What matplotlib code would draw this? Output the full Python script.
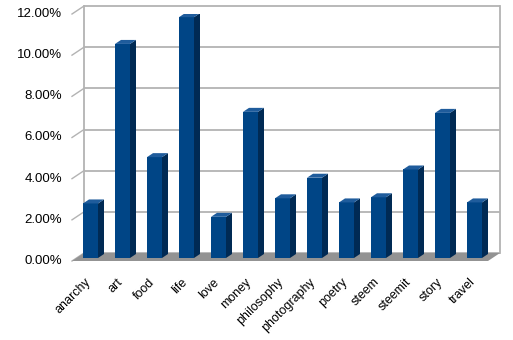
import matplotlib
matplotlib.use('Agg')
import matplotlib.pyplot as plt
from matplotlib.patches import Polygon

categories = ['anarchy', 'art', 'food', 'life', 'love', 'money', 'philosophy',
              'photography', 'poetry', 'steem', 'steemit', 'story', 'travel']
values = [2.65, 10.4, 4.9, 11.7, 2.0, 7.1, 2.9, 3.9, 2.7, 2.95, 4.3, 7.05, 2.7]
yticks = [0, 2, 4, 6, 8, 10, 12]
ytick_labels = ['0.00%', '2.00%', '4.00%', '6.00%', '8.00%', '10.00%', '12.00%']

plt.rcParams['font.family'] = ['Liberation Sans', 'DejaVu Sans']

W, H = 513, 340
fig = plt.figure(figsize=(W / 100, H / 100), dpi=100)
L, R, T, B = 72, 488, 14, 261
ax = fig.add_axes([L / W, 1 - B / H, (R - L) / W, (B - T) / H])
n = len(categories)
ax.set_xlim(-0.5, n - 0.5)
ax.set_ylim(0, 12)
ax.axis('off')

px_x = n / (R - L)
px_y = 12 / (B - T)


def off(x, y, dx, dy):
    return (x + dx * px_x, y + dy * px_y)


DX, DY = 12, 8
grid_c = '#b3b3b3'
x0, x1 = -0.5, n - 0.5

# floor
ax.add_patch(Polygon([(x0, 0), (x1, 0), off(x1, 0, DX, DY), off(x0, 0, DX, DY)],
                     closed=True, facecolor='#939393', edgecolor='none', zorder=1,
                     clip_on=False))

# back wall grid lines
for t in yticks:
    a = off(x0, t, DX, DY)
    b = off(x1, t, DX, DY)
    ax.plot([a[0], b[0]], [a[1], b[1]], color=grid_c, lw=1.3, zorder=0.5,
            clip_on=False, solid_capstyle='butt')
    # side wall diagonal
    ax.plot([x0, a[0]], [t, a[1]], color=grid_c, lw=1.0, zorder=0.5, clip_on=False)
    ax.text(x0 - 10 * px_x, t, ytick_labels[yticks.index(t)], ha='right',
            va='center', fontsize=9.5, color='#000000')

# back wall verticals
for xx in (x0, x1):
    a = off(xx, 0, DX, DY)
    b = off(xx, 12, DX, DY)
    ax.plot([a[0], b[0]], [a[1], b[1]], color=grid_c, lw=1.3, zorder=0.5, clip_on=False)

front_c = '#004586'
side_c = '#002a54'
top_c = '#1f5c9c'
BW = 15
SD, SH = 6, 4
for i, v in enumerate(values):
    fl = off(i, 0, -5, 3)
    fr = off(i, 0, -5 + BW, 3)
    top = v + 3 * px_y
    ax.add_patch(Polygon([(fl[0], fl[1]), (fr[0], fr[1]), (fr[0], top), (fl[0], top)],
                         closed=True, facecolor=front_c, edgecolor='none', zorder=3))
    s1 = off(fr[0], fr[1], SD, SH)
    s2 = off(fr[0], top, SD, SH)
    ax.add_patch(Polygon([(fr[0], fr[1]), s1, s2, (fr[0], top)], closed=True,
                         facecolor=side_c, edgecolor='none', zorder=3))
    t2 = off(fl[0], top, SD, SH)
    ax.add_patch(Polygon([(fl[0], top), (fr[0], top), s2, t2], closed=True,
                         facecolor=top_c, edgecolor='none', zorder=3))
    ax.text(i - 3 * px_x, -15 * px_y, categories[i], rotation=45, ha='right', va='top',
            rotation_mode='anchor', fontsize=9, color='#000000')

fig.savefig('out.png', dpi=100)
